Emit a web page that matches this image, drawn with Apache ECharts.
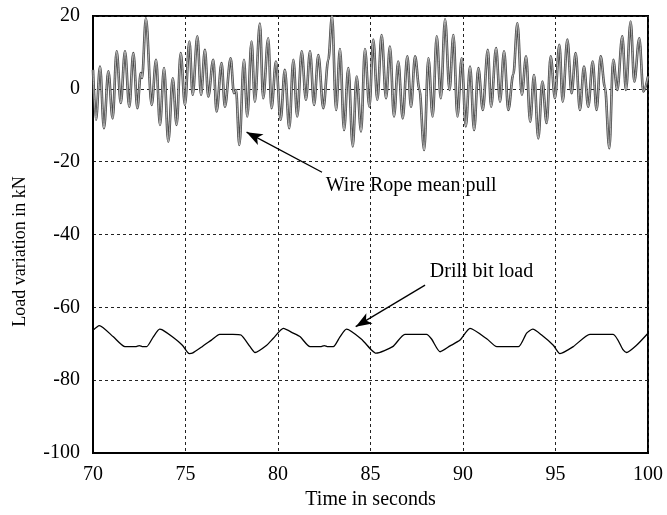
<!DOCTYPE html>
<html>
<head>
<meta charset="utf-8">
<script src="https://cdn.jsdelivr.net/npm/echarts@6/dist/echarts.min.js"></script>
<style>
html, body { margin: 0; padding: 0; background: #fff; }
#main { width: 667px; height: 515px; }
</style>
</head>
<body>
<div id="main"></div>
<script>
// wire rope mean pull: peaks / troughs
var wireTime = [70.0, 70.16, 70.38, 70.59, 70.83, 71.06, 71.28, 71.5, 71.73, 71.96, 72.18, 72.4, 72.58, 72.65, 72.86,
  73.17, 73.41, 73.62, 73.84, 74.07, 74.31, 74.52, 74.74, 74.97, 75.21, 75.39, 75.64, 75.84,
  76.05, 76.23, 76.5, 76.68, 76.95, 77.13, 77.44, 77.62, 77.73, 77.91, 78.16, 78.34, 78.57, 78.75,
  79.02, 79.2, 79.47, 79.65, 79.89, 80.14, 80.37, 80.61, 80.83, 81.04, 81.28, 81.51, 81.73,
  81.95, 82.18, 82.45, 82.72, 82.92, 83.14, 83.35, 83.57, 83.8, 84.04, 84.25, 84.49, 84.7, 84.94,
  85.15, 85.37, 85.6, 85.84, 86.05, 86.27, 86.5, 86.74, 86.99, 87.19, 87.41, 87.64,
  87.9, 88.13, 88.36, 88.58, 88.8, 89.03, 89.27, 89.48, 89.7, 89.93, 90.15, 90.38, 90.6, 90.83,
  91.07, 91.34, 91.52, 91.79, 92.0, 92.22, 92.45, 92.72, 92.94, 93.18, 93.41, 93.63, 93.84,
  94.07, 94.29, 94.52, 94.74, 94.97, 95.21, 95.39, 95.64, 95.87, 96.09, 96.32, 96.54, 96.77,
  97.01, 97.22, 97.44, 97.67, 97.91, 98.12, 98.34, 98.61, 98.81, 99.06, 99.26, 99.53, 99.75, 100.0];
var wireLoad = [5.2, -8.5, 6.1, -10.8, 4.8, -8.1, 10.3, -3.9, 10.3, -4.9, 9.8, -5.3, 4.3, 3.0, 19.4,
  -4.4, 8.0, -9.9, 5.7, -14.5, 2.9, -9.9, 9.8, -4.4, 13.0, -1.6, 14.4, -1.6,
  10.7, -2.1, 8.0, -6.2, 7.1, -4.9, 8.4, -1.2, -0.3, -15.4, 8.0, -7.6, 13.0, -3.5,
  17.9, -2.6, 13.9, -5.3, 7.5, -8.5, 5.2, -10.8, 8.0, -7.6, 10.3, -3.0, 10.3,
  -4.4, 9.3, -5.3, 8.0, 20.0, -5.8, 10.9, -11.3, 5.7, -15.8, 3.4, -11.7, 10.9, -4.9,
  13.5, -3.0, 14.8, -2.6, 11.6, -7.6, 7.5, -8.1, 8.9, -4.9, 8.9, 0.0,
  -16.8, 8.4, -7.6, 14.4, -2.6, 19.1, -0.3, 14.8, -7.6, 8.4, -10.3, 6.1, -11.3, 5.7,
  -5.8, 10.7, -4.9, 11.2, -3.5, 10.3, -5.8, 4.0, 18.0, -1.6, 8.9, -9.0, 3.8,
  -13.6, 2.0, -9.4, 8.9, -2.6, 12.1, -3.5, 13.5, -1.2, 9.8, -5.8, 6.1, -4.9,
  7.5, -5.8, 8.9, 0.5, -16.3, 8.0, -0.3, 14.4, -0.3, 18.5, 2.0, 13.9, -0.7, 3.4];

// drill bit load
var drillTime = [70.0, 70.34, 71.1, 71.73, 72.3, 72.5, 72.7, 72.9, 73.26, 73.6, 73.75, 74.29, 74.83, 75.2, 75.4,
  75.9, 76.4, 76.85, 77.56, 78.0, 78.49, 78.76, 79.39, 79.75, 80.29, 80.83, 81.2, 81.73, 82.3, 82.5,
  82.7, 82.99, 83.35, 83.7, 84.5, 85.05, 85.3, 86.2, 86.86, 88.03, 88.3, 88.76, 89.3, 89.84, 90.38,
  91.3, 91.83, 93.0, 93.44, 93.77, 94.25, 94.88, 95.24, 95.96, 96.86, 98.12, 98.66, 98.84, 99.38, 100.0];
var drillLoad = [-66.3, -65.0, -68.1, -70.8, -70.8, -70.5, -70.8, -70.8, -68.1, -66.0, -66.2, -68.1, -70.4, -72.7, -72.5,
  -70.8, -69.0, -67.4, -67.4, -67.6, -70.8, -72.4, -70.4, -68.5, -65.8, -67.1, -68.1, -70.8, -70.8, -70.5,
  -70.8, -70.8, -68.1, -66.0, -68.7, -71.7, -72.6, -70.8, -67.4, -67.4, -68.7, -72.2, -70.6, -69.0, -65.8,
  -68.7, -70.8, -70.8, -67.1, -66.0, -67.6, -70.4, -72.7, -70.8, -67.4, -67.4, -71.7, -72.4, -70.4, -67.1];

var xTicks = { min: 70, max: 100, step: 5 };
var yTicks = { min: -100, max: 20, step: 20 };

function pairs(xs, ys) {
  return xs.map(function (x, i) { return [x, ys[i]]; });
}

var serif = '"Liberation Serif", "Times New Roman", serif';
var myChart = echarts.init(document.getElementById('main'));
myChart.setOption({
  animation: false,
  backgroundColor: '#fff',
  grid: { left: 93, right: 19, top: 16, bottom: 62, show: true, borderColor: '#000', borderWidth: 2 },
  xAxis: {
    type: 'value', min: xTicks.min, max: xTicks.max, interval: xTicks.step,
    name: 'Time in seconds', nameLocation: 'middle', nameGap: 37,
    nameTextStyle: { fontFamily: serif, fontSize: 20, color: '#000' },
    axisLine: { show: true, onZero: false, lineStyle: { color: '#000', width: 2 } },
    axisTick: { show: false },
    axisLabel: { fontFamily: serif, fontSize: 20, color: '#000', margin: 12 },
    splitLine: { show: true, lineStyle: { color: '#222', width: 1, type: [3, 3] } }
  },
  yAxis: {
    type: 'value', min: yTicks.min, max: yTicks.max, interval: yTicks.step,
    name: 'Load variation in kN', nameLocation: 'middle', nameGap: 64,
    nameTextStyle: { fontFamily: serif, fontSize: 18, color: '#000', padding: [0, 34, 0, 0] },
    axisLine: { show: true, lineStyle: { color: '#000', width: 2 } },
    axisTick: { show: false },
    axisLabel: { fontFamily: serif, fontSize: 20, color: '#000', margin: 13 },
    splitLine: { show: true, lineStyle: { color: '#222', width: 1, type: [3, 3] } }
  },
  series: [
    {
      name: 'Wire Rope mean pull', type: 'line', showSymbol: false,
      smooth: 0.35, smoothMonotone: 'x',
      data: pairs(wireTime, wireLoad),
      lineStyle: { color: '#4a4a4a', width: 2.6 }
    },
    {
      name: 'wire inner', type: 'line', showSymbol: false,
      smooth: 0.35, smoothMonotone: 'x',
      data: pairs(wireTime, wireLoad),
      lineStyle: { color: '#cfcfcf', width: 0.8 }
    },
    {
      name: 'Drill bit load', type: 'line', showSymbol: false,
      smooth: 0.2,
      data: pairs(drillTime, drillLoad),
      lineStyle: { color: '#000', width: 1.3 },
      markLine: {
        silent: true,
        symbol: ['none', 'arrow'],
        symbolSize: [9, 16],
        label: { show: false },
        lineStyle: { color: '#000', width: 1.3, type: 'solid' },
        data: [
          [{ coord: [82.38, -22.9] }, { coord: [78.3, -11.9] }],
          [{ coord: [87.95, -53.9] }, { coord: [84.2, -65.3] }]
        ]
      },
      markPoint: {
        silent: true,
        symbol: 'circle', symbolSize: 0,
        label: { show: true, position: 'inside', formatter: '{b}', fontFamily: serif, fontSize: 20, color: '#000' },
        data: [
          { name: 'Wire Rope mean pull', coord: [87.2, -26.6] },
          { name: 'Drill bit load', coord: [91.0, -50.3] }
        ]
      }
    }
  ]
});
</script>
</body>
</html>
